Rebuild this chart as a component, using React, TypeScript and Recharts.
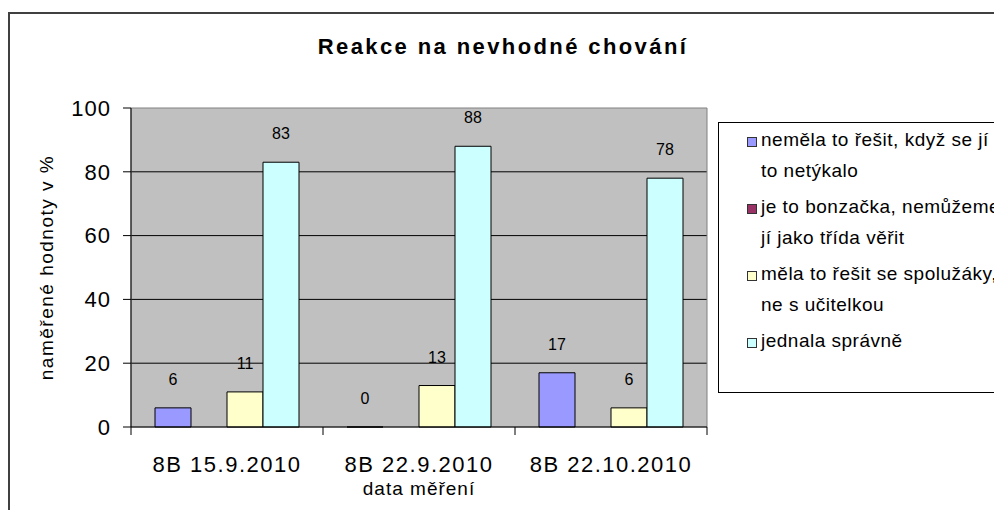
import React from 'react';
import { BarChart, Bar, XAxis, YAxis, CartesianGrid, Legend, LabelList, ReferenceArea } from 'recharts';

const categories = ['8B 15.9.2010', '8B 22.9.2010', '8B 22.10.2010'];
const nemelaResit = [6, 0, 17];
const bonzacka: (number | null)[] = [null, null, null];
const seSpoluzaky = [11, 13, 6];
const jednalaSpravne = [83, 88, 78];
const yTicks = [0, 20, 40, 60, 80, 100];
const gridValues = [20, 40, 60, 80];

const series = [
  { key: 'nemela', name: 'neměla to řešit, když se jí to netýkalo', lines: ['neměla to řešit, když se jí', 'to netýkalo'], color: '#9999FF', values: nemelaResit },
  { key: 'bonzacka', name: 'je to bonzačka, nemůžeme jí jako třída věřit', lines: ['je to bonzačka, nemůžeme', 'jí jako třída věřit'], color: '#993366', values: bonzacka },
  { key: 'spoluzaci', name: 'měla to řešit se spolužáky, ne s učitelkou', lines: ['měla to řešit se spolužáky,', 'ne s učitelkou'], color: '#FFFFCC', values: seSpoluzaky },
  { key: 'spravne', name: 'jednala správně', lines: ['jednala správně'], color: '#CCFFFF', values: jednalaSpravne },
];

const data = categories.map((category, i) => {
  const row: Record<string, string | number | null> = { category };
  series.forEach((s) => {
    row[s.key] = s.values[i];
  });
  return row;
});

const FONT = '"Liberation Sans", Arial, sans-serif';
const CHART_W = 994;
const CHART_H = 502;
const MARGIN = { top: 100, right: 295, bottom: 13, left: 43 };
const Y_AXIS_W = 80;
const PLOT_W = CHART_W - MARGIN.left - MARGIN.right - Y_AXIS_W;

const CategoryTick = (props: any) => {
  const { x, y, payload, index } = props;
  const half = PLOT_W / categories.length / 2;
  return (
    <g>
      <line x1={x - half} x2={x - half} y1={y - 8} y2={y} stroke="#000" />
      {index === categories.length - 1 && <line x1={x + half} x2={x + half} y1={y - 8} y2={y} stroke="#000" />}
      <text x={x} y={y + 37} textAnchor="middle" fontSize={22} letterSpacing={1.5} fill="#000" fontFamily={FONT}>
        {payload.value}
      </text>
    </g>
  );
};

const YTitle = (props: any) => {
  const { viewBox } = props;
  const x = viewBox.x + 2;
  const y = viewBox.y + viewBox.height / 2;
  return (
    <text x={x} y={y} transform={`rotate(-90, ${x}, ${y})`} textAnchor="middle" fontSize={19} letterSpacing={1.5} fill="#000" fontFamily={FONT}>
      naměřené hodnoty v %
    </text>
  );
};

const XTitle = (props: any) => {
  const { viewBox } = props;
  return (
    <text x={viewBox.x + viewBox.width / 2} y={487} textAnchor="middle" fontSize={19} letterSpacing={1} fill="#000" fontFamily={FONT}>
      data měření
    </text>
  );
};

const LegendBox = () => (
  <div
    style={{
      border: '1px solid #000',
      width: 300,
      height: 271,
      boxSizing: 'border-box',
      background: '#fff',
      fontFamily: FONT,
      fontSize: 19,
      letterSpacing: 0.5,
      color: '#000',
      paddingTop: 1,
      whiteSpace: 'nowrap',
    }}
  >
    {series.map((s) => (
      <div key={s.key} style={{ display: 'flex', alignItems: 'flex-start', marginLeft: 28, marginBottom: 5 }}>
        <span
          style={{
            display: 'inline-block',
            width: 8,
            height: 8,
            marginTop: 13,
            border: '1px solid #333',
            background: s.color,
            flex: 'none',
          }}
        />
        <div style={{ marginLeft: 4, lineHeight: '31px' }}>
          {s.lines.map((l) => (
            <div key={l}>{l}</div>
          ))}
        </div>
      </div>
    ))}
  </div>
);

// keep zero-valued bars in the layout so their "0" label still shows
const keepZero = (value: any) => (value === 0 ? 0.01 : 0);

export default function App() {
  return (
    <div style={{ position: 'relative', width: CHART_W, height: CHART_H, overflow: 'hidden', fontFamily: FONT, background: '#fff' }}>
      <div style={{ position: 'absolute', left: 0, top: 4, width: 1200, height: 800, border: '2px solid #404040', boxSizing: 'border-box' }} />
      <div
        style={{
          position: 'absolute',
          left: 295,
          top: 28,
          width: 400,
          textAlign: 'center',
          fontSize: 22,
          lineHeight: '22px',
          fontWeight: 'bold',
          letterSpacing: 2.4,
          color: '#000',
          zIndex: 2,
        }}
      >
        Reakce na nevhodné chování
      </div>
      <BarChart width={CHART_W} height={CHART_H} data={data} margin={MARGIN} barCategoryGap={24} barGap={0}>
        <CartesianGrid horizontal vertical={false} horizontalValues={gridValues} stroke="#000" fill="#C0C0C0" fillOpacity={1} />
        <ReferenceArea y1={0} y2={100} fill="none" stroke="#808080" strokeWidth={1} />
        <XAxis
          dataKey="category"
          height={70}
          axisLine={{ stroke: '#000' }}
          tickLine={false}
          tickSize={8}
          tickMargin={0}
          tick={<CategoryTick />}
          interval={0}
          label={<XTitle />}
        />
        <YAxis
          width={Y_AXIS_W}
          domain={[0, 100]}
          ticks={yTicks}
          interval={0}
          axisLine={{ stroke: '#000' }}
          tickLine={{ stroke: '#000' }}
          tickSize={8}
          tickMargin={12}
          tick={{ fontSize: 22, fill: '#000', fontFamily: FONT, letterSpacing: 1 }}
          label={<YTitle />}
        />
        <Legend
          layout="vertical"
          align="center"
          verticalAlign="middle"
          wrapperStyle={{ left: 710, top: 114, width: 300 }}
          content={<LegendBox />}
        />
        {series.map((s) => (
          <Bar
            key={s.key}
            dataKey={s.key}
            name={s.name}
            fill={s.color}
            stroke="#000"
            strokeWidth={1}
            minPointSize={keepZero}
            isAnimationActive={false}
          >
            {s.key !== 'bonzacka' && (
              <LabelList dataKey={s.key} position="top" offset={23} fontSize={16} fill="#000" fontFamily={FONT} />
            )}
          </Bar>
        ))}
      </BarChart>
    </div>
  );
}
